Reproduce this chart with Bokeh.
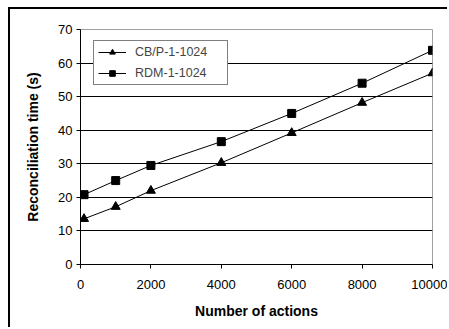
from bokeh.plotting import figure
from bokeh.models import Legend, LegendItem, FixedTicker, Range1d
from bokeh.embed import file_html
from bokeh.resources import INLINE

actions = [100, 1000, 2000, 4000, 6000, 8000, 10000]
cbp = [13.6, 17.2, 22.0, 30.3, 39.2, 48.2, 57.0]
rdm = [20.8, 25.0, 29.5, 36.6, 45.0, 54.0, 63.8]
x_ticks = [0, 2000, 4000, 6000, 8000, 10000]
y_ticks = [0, 10, 20, 30, 40, 50, 60, 70]
names = ["CB/P-1-1024", "RDM-1-1024"]

FONT = "Liberation Sans"

p = figure(width=439, height=320, output_backend="svg", toolbar_location=None,
           x_range=Range1d(0, 10000), y_range=Range1d(0, 70),
           min_border_left=70, min_border_right=17, min_border_top=20, min_border_bottom=65)
p.styles = {"margin-left": "8px", "margin-top": "7px",
            "border-left": "2px solid #000", "border-top": "2px solid #000"}

p.outline_line_color = "#a0a0a0"
p.outline_line_width = 1
p.background_fill_color = "white"
p.border_fill_color = "white"

p.xgrid.grid_line_color = None
p.ygrid.grid_line_color = "black"
p.ygrid.grid_line_width = 1
p.xaxis.ticker = FixedTicker(ticks=x_ticks)
p.yaxis.ticker = FixedTicker(ticks=y_ticks)

for ax in (p.xaxis[0], p.yaxis[0]):
    ax.axis_line_color = "black"
    ax.major_tick_line_color = "black"
    ax.major_tick_out = 4
    ax.major_tick_in = 0
    ax.minor_tick_line_color = None
    ax.major_label_text_font = FONT
    ax.major_label_text_font_size = "13px"
    ax.major_label_text_color = "black"
    ax.axis_label_text_font = FONT
    ax.axis_label_text_font_style = "bold"
    ax.axis_label_text_font_size = "14px"
    ax.axis_label_text_color = "black"

p.xaxis.major_label_standoff = 11
p.yaxis.major_label_standoff = 4
p.xaxis.axis_label = "Number of actions"
p.yaxis.axis_label = "Reconciliation time (s)"
p.xaxis.axis_label_standoff = 11
p.yaxis.axis_label_standoff = 14

l1 = p.line(actions, cbp, line_color="black", line_width=1)
m1 = p.scatter(actions, cbp, marker="triangle", size=9, fill_color="black", line_color="black")
l2 = p.line(actions, rdm, line_color="black", line_width=1)
m2 = p.scatter(actions, rdm, marker="square", size=8, fill_color="black", line_color="black")

legend = Legend(items=[LegendItem(label=names[0], renderers=[l1, m1]),
                       LegendItem(label=names[1], renderers=[l2, m2])],
                location=(13, 179), padding=4, spacing=7, margin=0,
                glyph_width=28, glyph_height=14, label_height=14, label_width=88,
                label_standoff=9, label_text_font=FONT, label_text_font_size="12.5px",
                border_line_color="black", border_line_width=1,
                background_fill_color="white", background_fill_alpha=1)
p.add_layout(legend)

open("out.html", "w").write(file_html(p, INLINE))
